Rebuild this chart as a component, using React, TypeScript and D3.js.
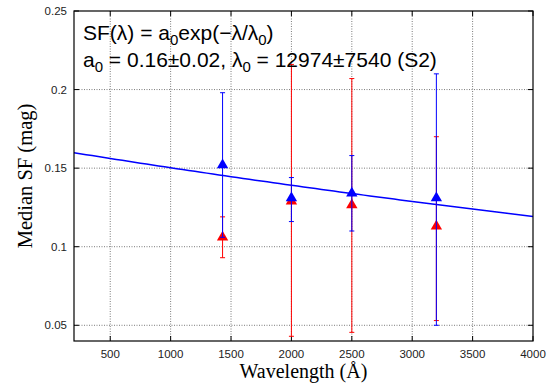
import React from 'react';
import * as d3 from 'd3';

// wavelengths (Å) of the four bands
const wavelengths = [1430, 2000, 2500, 3200];

// blue series: median SF and error-bar bounds
const blueValues = [0.152, 0.131, 0.134, 0.131];
const blueLow = [0.106, 0.116, 0.110, 0.050];
const blueHigh = [0.198, 0.144, 0.158, 0.210];

// red series
const redValues = [0.106, 0.129, 0.1265, 0.113];
const redLow = [0.093, 0.043, 0.0455, 0.053];
const redHigh = [0.119, 0.216, 0.207, 0.170];

// exponential fit SF = a0 exp(-λ/λ0)
const fitA0 = 0.1623;
const fitLambda0 = 12974;

const xTicks = [500, 1000, 1500, 2000, 2500, 3000, 3500, 4000];
const yTicks = [0.05, 0.1, 0.15, 0.2, 0.25];

const W = 548;
const H = 384;
const margin = { top: 11, right: 15, bottom: 43, left: 74 };

export default function App() {
  const innerW = W - margin.left - margin.right;
  const innerH = H - margin.top - margin.bottom;

  const x = d3.scaleLinear().domain([200, 4000]).range([0, innerW]);
  const y = d3.scaleLinear().domain([0.04, 0.25]).range([innerH, 0]);

  const fitPts = d3.range(200, 4001, 50).map((l) => [l, fitA0 * Math.exp(-l / fitLambda0)] as [number, number]);
  const fitLine = d3.line<[number, number]>().x((d) => x(d[0])).y((d) => y(d[1]))(fitPts) || '';

  const tri = d3.symbol().type(d3.symbolTriangle).size(56)() || '';

  const series = [
    { color: '#ff0000', v: redValues, lo: redLow, hi: redHigh },
    { color: '#0000ff', v: blueValues, lo: blueLow, hi: blueHigh },
  ];

  const tick = 5;
  const cap = 2.5;
  const sans = "'Liberation Sans', Arial, sans-serif";
  const serif = "'Liberation Serif', 'Times New Roman', serif";

  return (
    <svg width={W} height={H} style={{ position: 'absolute', left: 0, top: 0 }}>
      <rect width={W} height={H} fill="#fff" />
      <g transform={`translate(${margin.left},${margin.top})`}>
        {/* grid */}
        {xTicks.filter((t) => t < 4000).map((t) => (
          <line key={'gx' + t} x1={x(t)} x2={x(t)} y1={0} y2={innerH}
            stroke="#7a7a7a" strokeWidth={1} strokeDasharray="1,1.5" />
        ))}
        {yTicks.filter((t) => t < 0.25).map((t) => (
          <line key={'gy' + t} x1={0} x2={innerW} y1={y(t)} y2={y(t)}
            stroke="#7a7a7a" strokeWidth={1} strokeDasharray="1,1.5" />
        ))}

        {/* inward ticks on all sides */}
        {xTicks.map((t) => (
          <g key={'tx' + t}>
            <line x1={x(t)} x2={x(t)} y1={innerH} y2={innerH - tick} stroke="#000" />
            <line x1={x(t)} x2={x(t)} y1={0} y2={tick} stroke="#000" />
          </g>
        ))}
        {yTicks.map((t) => (
          <g key={'ty' + t}>
            <line x1={0} x2={tick} y1={y(t)} y2={y(t)} stroke="#000" />
            <line x1={innerW} x2={innerW - tick} y1={y(t)} y2={y(t)} stroke="#000" />
          </g>
        ))}

        {/* fit line */}
        <path d={fitLine} fill="none" stroke="#0000ff" strokeWidth={1.5} />

        {/* error bars and points */}
        {series.map((s, si) => (
          <g key={'s' + si}>
            {wavelengths.map((w, i) => (
              <g key={i} stroke={s.color} strokeWidth={1}>
                <line x1={x(w)} x2={x(w)} y1={y(s.lo[i])} y2={y(s.hi[i])} />
                <line x1={x(w) - cap} x2={x(w) + cap} y1={y(s.lo[i])} y2={y(s.lo[i])} />
                <line x1={x(w) - cap} x2={x(w) + cap} y1={y(s.hi[i])} y2={y(s.hi[i])} />
              </g>
            ))}
            {wavelengths.map((w, i) => (
              <path key={'p' + i} d={tri} transform={`translate(${x(w)},${y(s.v[i])})`} fill={s.color} />
            ))}
          </g>
        ))}

        {/* border */}
        <rect x={0} y={0} width={innerW} height={innerH} fill="none" stroke="#000" strokeWidth={1.2} />

        {/* tick labels */}
        {xTicks.map((t) => (
          <text key={'lx' + t} x={x(t)} y={innerH + 17} textAnchor="middle"
            fontFamily={sans} fontSize={11.5} fill="#222">{t}</text>
        ))}
        {yTicks.map((t) => (
          <text key={'ly' + t} x={-7} y={y(t) + 4} textAnchor="end"
            fontFamily={sans} fontSize={11.5} fill="#222">{t}</text>
        ))}

        {/* annotation */}
        <text x={9} y={29} fontFamily={sans} fontSize={21} fill="#000">
          SF(λ) = a<tspan fontSize={15} dy={5}>0</tspan><tspan dy={-5}>exp(−λ/λ</tspan><tspan fontSize={15} dy={5}>0</tspan><tspan dy={-5}>)</tspan>
        </text>
        <text x={9} y={56} fontFamily={sans} fontSize={21} fill="#000">
          a<tspan fontSize={15} dy={5}>0</tspan><tspan dy={-5}> = 0.16±0.02, λ</tspan><tspan fontSize={15} dy={5}>0</tspan><tspan dy={-5}> = 12974±7540 (S2)</tspan>
        </text>
      </g>

      {/* axis titles */}
      <text x={margin.left + innerW / 2} y={378} textAnchor="middle"
        fontFamily={serif} fontSize={20} fill="#000">Wavelength (Å)</text>
      <text transform={`translate(32,${margin.top + innerH / 2}) rotate(-90)`} textAnchor="middle"
        fontFamily={serif} fontSize={20.5} fill="#000">Median SF (mag)</text>
    </svg>
  );
}
